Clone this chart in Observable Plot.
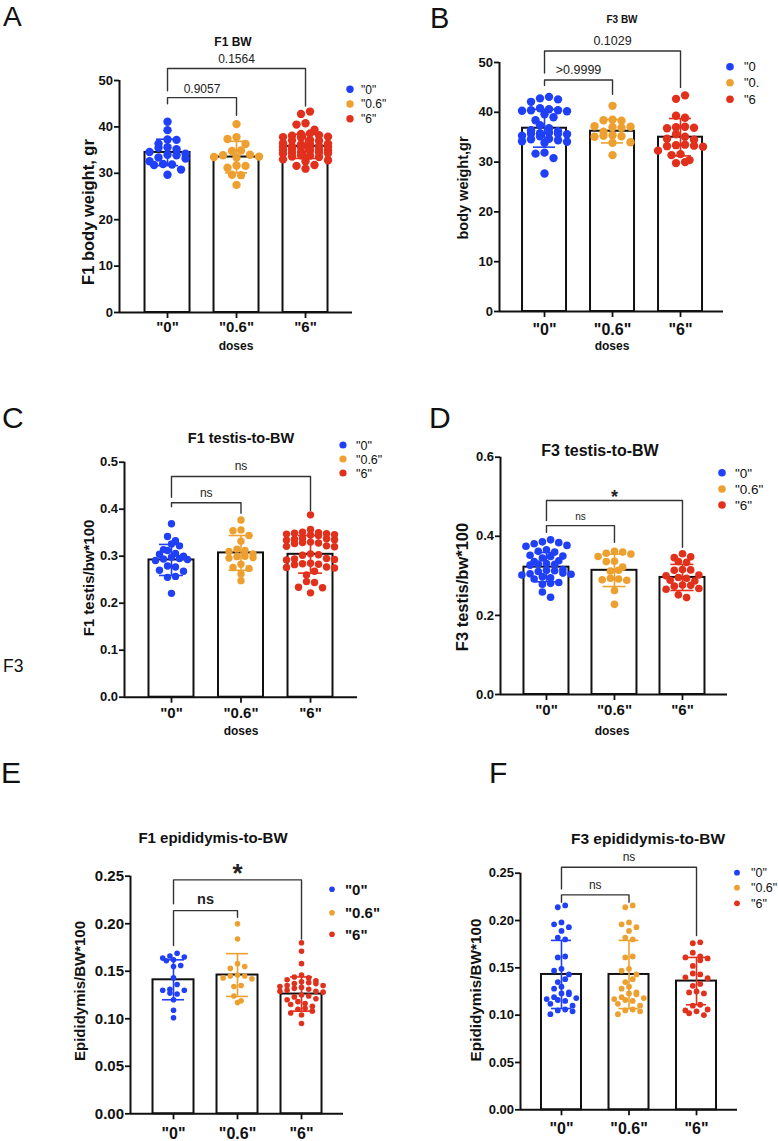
<!DOCTYPE html>
<html><head><meta charset="utf-8">
<script src="https://cdn.jsdelivr.net/npm/d3@7"></script>
<script src="https://cdn.jsdelivr.net/npm/@observablehq/plot@0.6"></script>
<style>
html,body{margin:0;padding:0;background:#fff;}
#page{position:relative;width:778px;height:1141px;overflow:hidden;font-family:"Liberation Sans",Arial,Helvetica,sans-serif;}
#overlay{position:absolute;left:0;top:0;pointer-events:none;}
</style></head><body><div id="page"></div>
<script>
// ---------- shared categories & colours ----------
const doses = ['"0"', '"0.6"', '"6"'];
const doseColors = ["#1f40f7", "#eda02f", "#e1301c"];

// ---------- A: F1 body weight (g) ----------
const f1bw_0  = [41.1, 39.3, 37.3, 37.2, 36.4, 35.6, 35.5, 35.2, 34.6, 34.2, 34.0, 33.9, 33.4, 33.2, 32.6, 32.0, 31.9, 31.8, 30.8, 29.7];
const f1bw_06 = [40.6, 37.8, 37.4, 36.3, 34.9, 34.8, 34.0, 33.9, 33.6, 33.5, 33.4, 31.7, 31.6, 31.2, 29.7, 29.6, 27.5];
const f1bw_6  = [43.3, 42.8, 40.8, 40.5, 39.4, 38.6, 38.5, 38.2, 38.1, 37.9, 37.8, 37.7, 37.2, 37.1, 37.0, 36.5, 36.4, 36.3, 36.2, 35.9, 35.8, 35.7, 35.7, 35.6, 35.5, 35.2, 35.1, 35.0, 34.9, 34.8, 34.6, 34.5, 34.4, 34.3, 34.2, 33.9, 33.8, 33.6, 33.5, 33.0, 32.8, 32.6, 31.8, 31.6, 31.0];
const f1bw_mean = [34.5, 33.5, 35.8];
const f1bw_sd   = [2.85, 3.4, 2.6];
const f1bw_ticks = [0, 10, 20, 30, 40, 50];
const f1bw_brackets = [
  {from: 0, to: 2, top: 52.6, leftEnd: 47.8, rightEnd: 44.5, label: "0.1564"},
  {from: 0, to: 1, top: 46.3, leftEnd: 45.0, rightEnd: 42.5, label: "0.9057"}
];

// ---------- B: F3 body weight (g) ----------
const f3bw_0  = [43.1, 42.8, 42.6, 42.1, 40.8, 40.6, 40.4, 40.4, 40.3, 40.2, 39.6, 39.0, 38.4, 37.4, 36.8, 36.4, 36.2, 35.9, 35.8, 35.7, 35.7, 35.6, 35.3, 35.2, 34.7, 34.6, 34.4, 34.2, 34.1, 33.9, 31.9, 31.7, 30.8, 27.7];
const f3bw_06 = [41.3, 38.5, 38.4, 38.3, 37.2, 37.1, 37.0, 36.9, 36.1, 35.4, 35.3, 35.2, 35.1, 34.0, 33.9, 31.4];
const f3bw_6  = [43.4, 42.7, 39.3, 38.9, 37.1, 37.0, 36.9, 36.8, 35.6, 35.1, 34.7, 34.5, 33.5, 33.4, 33.3, 33.2, 33.1, 32.3, 31.6, 31.4, 30.4, 30.0, 29.8];
const f3bw_mean = [36.8, 36.2, 35.0];
const f3bw_sd   = [3.8, 2.35, 3.75];
const f3bw_ticks = [0, 10, 20, 30, 40, 50];
const f3bw_brackets = [
  {from: 0, to: 2, top: 52.3, leftEnd: 47.9, rightEnd: 45.0, label: "0.1029"},
  {from: 0, to: 1, top: 46.5, leftEnd: 45.4, rightEnd: 43.6, label: ">0.9999"}
];
const f3bw_legend = ['"0', '"0.', '"6'];

// ---------- C: F1 testis / BW * 100 ----------
const f1t_0  = [0.369, 0.342, 0.333, 0.326, 0.322, 0.314, 0.312, 0.306, 0.304, 0.300, 0.298, 0.295, 0.294, 0.293, 0.291, 0.279, 0.277, 0.270, 0.268, 0.257, 0.255, 0.221];
const f1t_06 = [0.377, 0.356, 0.354, 0.344, 0.332, 0.315, 0.312, 0.310, 0.305, 0.300, 0.299, 0.297, 0.296, 0.283, 0.276, 0.274, 0.262, 0.248];
const f1t_6  = [0.388, 0.357, 0.351, 0.350, 0.349, 0.348, 0.347, 0.346, 0.345, 0.344, 0.338, 0.337, 0.336, 0.335, 0.334, 0.330, 0.329, 0.328, 0.327, 0.322, 0.321, 0.320, 0.305, 0.303, 0.302, 0.295, 0.294, 0.293, 0.292, 0.285, 0.284, 0.283, 0.282, 0.277, 0.276, 0.275, 0.268, 0.260, 0.246, 0.244, 0.234, 0.233, 0.222];
const f1t_mean = [0.292, 0.307, 0.304];
const f1t_sd   = [0.033, 0.037, 0.040];
const f1t_ticks = [0, 0.1, 0.2, 0.3, 0.4, 0.5];
const f1t_brackets = [
  {from: 0, to: 2, top: 0.4696, leftEnd: 0.4255, rightEnd: 0.397, label: "ns"},
  {from: 0, to: 1, top: 0.4136, leftEnd: 0.405, rightEnd: 0.3915, label: "ns"}
];

// ---------- D: F3 testis / BW * 100 ----------
const f3t_0  = [0.391, 0.386, 0.384, 0.381, 0.377, 0.375, 0.366, 0.362, 0.360, 0.352, 0.350, 0.349, 0.345, 0.338, 0.336, 0.331, 0.330, 0.329, 0.327, 0.316, 0.314, 0.313, 0.311, 0.307, 0.305, 0.304, 0.302, 0.298, 0.295, 0.292, 0.283, 0.281, 0.279, 0.259, 0.246];
const f3t_06 = [0.362, 0.360, 0.357, 0.355, 0.349, 0.337, 0.336, 0.322, 0.314, 0.312, 0.294, 0.292, 0.290, 0.289, 0.263, 0.228];
const f3t_6  = [0.356, 0.348, 0.346, 0.336, 0.334, 0.316, 0.315, 0.314, 0.302, 0.300, 0.296, 0.294, 0.289, 0.287, 0.277, 0.276, 0.274, 0.268, 0.266, 0.252, 0.245];
const f3t_mean = [0.322, 0.314, 0.296];
const f3t_sd   = [0.037, 0.041, 0.033];
const f3t_ticks = [0, 0.2, 0.4, 0.6];
const f3t_brackets = [
  {from: 0, to: 2, top: 0.4905, leftEnd: 0.44, rightEnd: 0.372, label: "*"},
  {from: 0, to: 1, top: 0.427, leftEnd: 0.41, rightEnd: 0.385, label: "ns"}
];

// ---------- E: F1 epididymis / BW * 100 ----------
const f1e_0  = [0.169, 0.166, 0.165, 0.164, 0.162, 0.161, 0.156, 0.155, 0.143, 0.136, 0.131, 0.130, 0.130, 0.127, 0.126, 0.120, 0.109, 0.101];
const f1e_06 = [0.200, 0.184, 0.158, 0.155, 0.153, 0.146, 0.145, 0.145, 0.143, 0.142, 0.135, 0.134, 0.124, 0.119, 0.117];
const f1e_6  = [0.180, 0.171, 0.158, 0.146, 0.144, 0.143, 0.141, 0.140, 0.139, 0.138, 0.137, 0.137, 0.135, 0.135, 0.134, 0.133, 0.132, 0.131, 0.130, 0.129, 0.129, 0.128, 0.125, 0.124, 0.123, 0.121, 0.120, 0.118, 0.116, 0.115, 0.113, 0.111, 0.110, 0.108, 0.106, 0.104, 0.095];
const f1e_mean = [0.141, 0.146, 0.126];
const f1e_sd   = [0.021, 0.0225, 0.018];
const f1e_ticks = [0, 0.05, 0.10, 0.15, 0.20, 0.25];
const f1e_brackets = [
  {from: 0, to: 2, top: 0.2461, leftEnd: 0.2209, rightEnd: 0.184, label: "*"},
  {from: 0, to: 1, top: 0.2138, leftEnd: 0.177, rightEnd: 0.2068, label: "ns"}
];

// ---------- F: F3 epididymis / BW * 100 ----------
const f3e_0  = [0.216, 0.214, 0.198, 0.196, 0.193, 0.189, 0.182, 0.180, 0.162, 0.161, 0.149, 0.147, 0.143, 0.138, 0.135, 0.130, 0.128, 0.124, 0.123, 0.122, 0.119, 0.118, 0.117, 0.116, 0.115, 0.112, 0.110, 0.106, 0.105, 0.104, 0.101];
const f3e_06 = [0.216, 0.214, 0.198, 0.196, 0.193, 0.189, 0.182, 0.180, 0.162, 0.161, 0.149, 0.147, 0.143, 0.138, 0.135, 0.130, 0.128, 0.124, 0.123, 0.122, 0.119, 0.118, 0.117, 0.116, 0.115, 0.112, 0.110, 0.106, 0.105, 0.104, 0.101];
const f3e_6  = [0.177, 0.176, 0.166, 0.162, 0.161, 0.160, 0.158, 0.152, 0.144, 0.143, 0.140, 0.139, 0.133, 0.131, 0.125, 0.124, 0.123, 0.111, 0.110, 0.106, 0.105, 0.104, 0.102, 0.100];
const f3e_mean = [0.143, 0.143, 0.136];
const f3e_sd   = [0.036, 0.036, 0.025];
const f3e_ticks = [0, 0.05, 0.10, 0.15, 0.20, 0.25];
const f3e_brackets = [
  {from: 0, to: 2, top: 0.2563, leftEnd: 0.2334, rightEnd: 0.1841, label: "ns"},
  {from: 0, to: 1, top: 0.2271, leftEnd: 0.2193, rightEnd: 0.2193, label: "ns"}
];

// ---------- panel definitions (data + layout) ----------
const fmt1 = d3.format(".1f"), fmt2 = d3.format(".2f"), fmt0 = d3.format("d");
const panels = [
  {groups: [f1bw_0, f1bw_06, f1bw_6], means: f1bw_mean, sds: f1bw_sd, yDomain: [0, 50], yTicks: f1bw_ticks, yFormat: fmt0, brackets: f1bw_brackets,
   L: {left: 0, top: 0, width: 390, height: 340, ml: 119, mr: 38, mt: 80, mb: 28, xDomain: [-0.696, 2.681], barW: 45, capW: 22, r: 4.2, gap: 0.6,
       yFont: 13, xFont: 15, xPad: 3, bf: [{size: 12, weight: "normal", gap: 5}, {size: 12, weight: "normal", gap: 5}]}},
  {groups: [f3bw_0, f3bw_06, f3bw_6], means: f3bw_mean, sds: f3bw_sd, yDomain: [0, 50], yTicks: f3bw_ticks, yFormat: fmt0, brackets: f3bw_brackets,
   L: {left: 390, top: 0, width: 388, height: 340, ml: 109, mr: 55, mt: 62, mb: 29, xDomain: [-0.662, 2.632], barW: 44, capW: 22, r: 4.2, gap: 0.6,
       yFont: 13, xFont: 16, xPad: 6, bf: [{size: 12.5, weight: "normal", gap: 6}, {size: 12.5, weight: "normal", gap: 6}]}},
  {groups: [f1t_0, f1t_06, f1t_6], means: f1t_mean, sds: f1t_sd, yDomain: [0, 0.5], yTicks: f1t_ticks, yFormat: fmt1, brackets: f1t_brackets,
   L: {left: 0, top: 340, width: 390, height: 380, ml: 124, mr: 33, mt: 121.7, mb: 23.3, xDomain: [-0.676, 2.676], barW: 45, capW: 24, r: 3.7, gap: 0.6,
       yFont: 13, xFont: 15, xPad: 4, bf: [{size: 12, weight: "normal", gap: 6}, {size: 12, weight: "normal", gap: 6}]}},
  {groups: [f3t_0, f3t_06, f3t_6], means: f3t_mean, sds: f3t_sd, yDomain: [0, 0.6], yTicks: f3t_ticks, yFormat: fmt1, brackets: f3t_brackets,
   L: {left: 390, top: 340, width: 388, height: 380, ml: 110, mr: 51, mt: 116.7, mb: 26, xDomain: [-0.676, 2.662], barW: 45, capW: 23, r: 3.8, gap: 0.6,
       yFont: 13, xFont: 15, xPad: 4, bf: [{size: 18, weight: "bold", gap: -2}, {size: 10, weight: "normal", gap: 6}]}},
  {groups: [f1e_0, f1e_06, f1e_6], means: f1e_mean, sds: f1e_sd, yDomain: [0, 0.25], yTicks: f1e_ticks, yFormat: fmt2, brackets: f1e_brackets,
   L: {left: 0, top: 740, width: 390, height: 401, ml: 130, mr: 47, mt: 135.7, mb: 27.7, xDomain: [-0.672, 2.656], barW: 41, capW: 22, r: 2.8, gap: 1.6,
       yFont: 15, xFont: 16, xPad: 8, bf: [{size: 26, weight: "bold", gap: -2.5}, {size: 14.5, weight: "bold", gap: 7}]}},
  {groups: [f3e_0, f3e_06, f3e_6], means: f3e_mean, sds: f3e_sd, yDomain: [0, 0.25], yTicks: f3e_ticks, yFormat: fmt2, brackets: f3e_brackets,
   L: {left: 390, top: 740, width: 388, height: 401, ml: 130, mr: 41, mt: 132.7, mb: 31.7, xDomain: [-0.607, 2.607], barW: 40, capW: 20, r: 2.9, gap: 1.6,
       yFont: 13, xFont: 16, xPad: 7, bf: [{size: 12, weight: "normal", gap: 6}, {size: 12, weight: "normal", gap: 6}]}}
];

const page = document.getElementById("page");

function buildPanel(P) {
  const L = P.L;
  const yS = d3.scaleLinear(P.yDomain, [L.height - L.mb, L.mt]);
  const xS = d3.scaleLinear(L.xDomain, [L.ml, L.width - L.mr]);
  const k = xS(1) - xS(0);
  // Prism-like scatter: points grouped into thin rows and spread side by side (layout only)
  const pts = [];
  P.groups.forEach((vals, gi) => {
    const D = 2 * L.r + L.gap;
    const rowH = D * 0.8;
    const maxW = L.barW * 1.12;
    const maxRow = Math.floor(maxW / D) + 1;
    const rows = [];
    let cur = null;
    vals.slice().sort((a, b) => b - a).forEach(v => {
      const py = yS(v);
      if (cur && py - cur.py0 < rowH && cur.items.length < maxRow) cur.items.push({v, py});
      else { cur = {py0: py, items: [{v, py}]}; rows.push(cur); }
    });
    rows.forEach((row, ri) => {
      const n = row.items.length;
      const sp = n > 1 ? Math.min(D, maxW / (n - 1)) : 0;
      // fill slots from the centre outward, alternating sides
      const slots = d3.range(n).sort((a, b) => Math.abs(a - (n - 1) / 2) - Math.abs(b - (n - 1) / 2) || (ri % 2 ? a - b : b - a));
      row.items.forEach((it, j) => {
        const px = (slots[j] - (n - 1) / 2) * sp;
        pts.push({dose: doses[gi], value: it.v, pos: gi + px / k});
      });
    });
  });
  const summary = doses.map((d, i) => ({dose: d, pos: i, mean: P.means[i], lo: P.means[i] - P.sds[i], hi: P.means[i] + P.sds[i]}));
  const hb = L.barW / 2 / k, hc = L.capW / 2 / k;
  const bl = P.brackets.flatMap((b, j) => [
    {id: j, pos: b.from, y: b.leftEnd}, {id: j, pos: b.from, y: b.top},
    {id: j, pos: b.to, y: b.top}, {id: j, pos: b.to, y: b.rightEnd}]);

  const svg = Plot.plot({
    width: L.width, height: L.height,
    marginLeft: L.ml, marginRight: L.mr, marginTop: L.mt, marginBottom: L.mb,
    x: {domain: L.xDomain, label: null},
    y: {domain: P.yDomain, label: null},
    color: {domain: doses, range: doseColors},
    style: {fontFamily: '"Liberation Sans", Arial, sans-serif', background: "transparent", color: "#111"},
    marks: [
      Plot.rect(summary, {x1: d => d.pos - hb, x2: d => d.pos + hb, y1: 0, y2: "mean", fill: "white", stroke: "#111", strokeWidth: 2}),
      Plot.dot(pts, {x: "pos", y: "value", r: L.r, fill: "dose", stroke: "none"}),
      Plot.ruleX(summary, {x: "pos", y1: "lo", y2: "hi", stroke: "dose", strokeWidth: 1.6}),
      Plot.ruleY(summary, {y: "hi", x1: d => d.pos - hc, x2: d => d.pos + hc, stroke: "dose", strokeWidth: 1.6}),
      Plot.ruleY(summary, {y: "lo", x1: d => d.pos - hc, x2: d => d.pos + hc, stroke: "dose", strokeWidth: 1.6}),
      Plot.line(bl, {x: "pos", y: "y", z: "id", stroke: "#333", strokeWidth: 1.4}),
      ...P.brackets.map((b, j) => Plot.text([b], {
        x: d => (d.from + d.to) / 2, y: "top", text: "label", dy: -L.bf[j].gap, lineAnchor: "bottom",
        fontSize: L.bf[j].size, fontWeight: L.bf[j].weight, fill: "#222"})),
      Plot.ruleY([0], {stroke: "#111", strokeWidth: 2}),
      Plot.ruleX([L.xDomain[0]], {stroke: "#111", strokeWidth: 2}),
      Plot.axisY({ticks: P.yTicks, tickFormat: P.yFormat, tickSize: 5, tickPadding: 1.5, fontSize: L.yFont, fontWeight: "bold", strokeWidth: 1.8, label: null}),
      Plot.axisX({ticks: [0, 1, 2], tickFormat: i => doses[i], tickSize: 6, tickPadding: L.xPad, fontSize: L.xFont, fontWeight: "bold", strokeWidth: 1.8, label: null})
    ]
  });
  svg.style.position = "absolute";
  svg.style.left = L.left + "px";
  svg.style.top = L.top + "px";
  svg.style.maxWidth = "none";
  page.appendChild(svg);
}
panels.forEach(buildPanel);

// ---------- annotation overlay: panel letters, titles, axis titles, legends ----------
const ov = d3.select(page).append("svg").attr("id", "overlay")
  .attr("width", 778).attr("height", 1141)
  .style("font-family", '"Liberation Sans", Arial, sans-serif');
function note(x, y, t, o = {}) {
  const el = ov.append("text").attr("x", x).attr("y", y).text(t)
    .attr("font-size", o.size || 12).attr("font-weight", o.weight || "normal")
    .attr("text-anchor", o.anchor || "start").attr("fill", "#111");
  if (o.rotate) el.attr("transform", `rotate(-90 ${x} ${y})`).attr("dy", "0.35em").attr("text-anchor", "middle");
}
function legend(x, ys, labels, o) {
  labels.forEach((lab, i) => {
    ov.append("circle").attr("cx", x).attr("cy", ys[i]).attr("r", o.r).attr("fill", doseColors[i]);
    note(x + o.dx, ys[i] + o.size * 0.36, lab, {size: o.size, weight: o.weight});
  });
}
// letters
note(3, 25.5, "A", {size: 28}); note(430, 28, "B", {size: 29});
note(2, 428, "C", {size: 30}); note(429, 428, "D", {size: 30});
note(1, 783, "E", {size: 30}); note(489, 783, "F", {size: 30});
note(3, 672, "F3", {size: 17.5});
// titles
note(233, 46, "F1 BW", {size: 12, weight: "bold", anchor: "middle"});
note(622, 23, "F3 BW", {size: 10, weight: "bold", anchor: "middle"});
note(241, 443, "F1 testis-to-BW", {size: 14.5, weight: "bold", anchor: "middle"});
note(600, 456, "F3 testis-to-BW", {size: 16, weight: "bold", anchor: "middle"});
note(213, 843, "F1 epididymis-to-BW", {size: 15, weight: "bold", anchor: "middle"});
note(648, 844, "F3 epididymis-to-BW", {size: 15.5, weight: "bold", anchor: "middle"});
// y-axis titles
note(88.5, 212, "F1 body weight, gr", {size: 16.5, weight: "bold", rotate: true});
note(463, 188, "body weight,gr", {size: 14.5, weight: "bold", rotate: true});
note(89, 578, "F1 testis/bw*100", {size: 15, weight: "bold", rotate: true});
note(462.5, 587, "F3 testis/bw*100", {size: 16.5, weight: "bold", rotate: true});
note(79.5, 991, "Epididymis/BW*100", {size: 15, weight: "bold", rotate: true});
note(476, 990, "Epididymis/BW*100", {size: 15.3, weight: "bold", rotate: true});
// x-axis titles
note(236, 350, "doses", {size: 12, weight: "bold", anchor: "middle"});
note(612, 350, "doses", {size: 12, weight: "bold", anchor: "middle"});
note(241, 735, "doses", {size: 12, weight: "bold", anchor: "middle"});
note(612, 735, "doses", {size: 12, weight: "bold", anchor: "middle"});
// legends
legend(350, [89.3, 104, 118.7], doses, {r: 3.7, dx: 11, size: 12, weight: "normal"});
legend(730, [66.7, 82.7, 99.3], f3bw_legend, {r: 3.8, dx: 14, size: 13, weight: "normal"});
legend(343, [445, 459, 473], doses, {r: 3.6, dx: 13, size: 12.5, weight: "normal"});
legend(722, [472.7, 489, 505], doses, {r: 3.8, dx: 13, size: 13.5, weight: "normal"});
legend(332, [889.3, 912.7, 934.3], doses, {r: 2.8, dx: 13, size: 15, weight: "bold"});
legend(737, [872.7, 887.7, 903.3], doses, {r: 2.9, dx: 14, size: 12.5, weight: "normal"});
</script>
</body></html>
